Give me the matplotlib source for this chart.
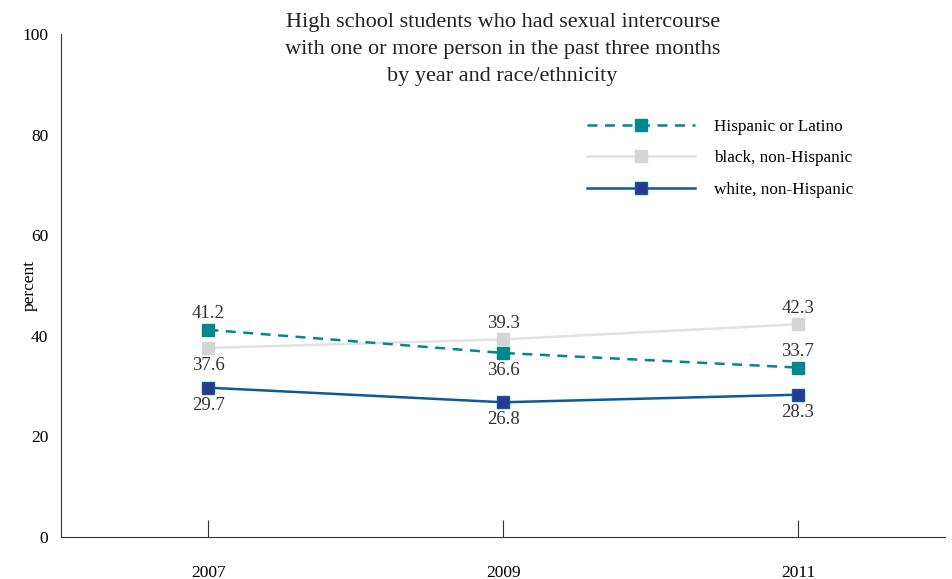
import matplotlib.pyplot as plt
from matplotlib.lines import Line2D

years = [2007, 2009, 2011]
hispanic = [41.2, 36.6, 33.7]
black = [37.6, 39.3, 42.3]
white = [29.7, 26.8, 28.3]

plt.rcParams['font.family'] = ['Liberation Serif', 'DejaVu Serif']

fig = plt.figure(figsize=(9.52, 5.79), dpi=100)
ax = fig.add_axes([0.064, 0.0725, 0.929, 0.8685])

teal = '#00888f'
gray = '#d4d4d4'
navy_line = '#0b5a9a'
navy_face = '#2b3990'

ax.plot(years, black, color='#e2e2e2', lw=1.8, marker='s', ms=8,
        mfc=gray, mec=gray, label='black, non-Hispanic', zorder=2)
ax.plot(years, hispanic, color=teal, lw=1.8, ls=(0, (4, 3)), marker='s', ms=8,
        mfc=teal, mec=teal, label='Hispanic or Latino', zorder=3)
ax.plot(years, white, color=navy_line, lw=1.8, marker='s', ms=8,
        mfc=navy_face, mec=navy_line, label='white, non-Hispanic', zorder=4)

# value labels: offset in points (positive = above)
hisp_off = [11.5, -12.5, 11.5]
black_off = [-12.5, 11.5, 11.5]
white_off = [-12.5, -12.5, -12.5]
for series, offs in ((hispanic, hisp_off), (black, black_off), (white, white_off)):
    for x, y, o in zip(years, series, offs):
        ax.annotate(f'{y:.1f}', (x, y), xytext=(0, o), textcoords='offset points',
                    ha='center', va='center', fontsize=13.5, color='#333333')

ax.set_xlim(2006, 2012)
ax.set_ylim(0, 100)
ax.set_xticks(years)
ax.set_yticks([0, 20, 40, 60, 80, 100])
ax.spines['top'].set_visible(False)
ax.spines['right'].set_visible(False)
ax.spines['left'].set_color('#333333')
ax.spines['bottom'].set_color('#333333')
ax.tick_params(axis='x', direction='in', length=12, pad=20, labelsize=12.5, color='#333333')
ax.tick_params(axis='y', direction='out', length=0, pad=9, labelsize=12.5)
ax.set_ylabel('percent', fontsize=12.5)
ax.yaxis.set_label_coords(-0.026, 0.5)

handles = [
    Line2D([], [], color=teal, lw=1.8, ls=(0, (4, 3)), marker='s', ms=8, mfc=teal, mec=teal),
    Line2D([], [], color='#e2e2e2', lw=1.8, marker='s', ms=8, mfc=gray, mec=gray),
    Line2D([], [], color=navy_line, lw=1.8, marker='s', ms=8, mfc=navy_face, mec=navy_line),
]
ax.legend(handles, ['Hispanic or Latino', 'black, non-Hispanic', 'white, non-Hispanic'],
          loc='upper left', bbox_to_anchor=(0.578, 0.862), frameon=False,
          handlelength=6.3, handletextpad=1.1, labelspacing=0.9, fontsize=12.3)

fig.text(0.528, 0.978, 'High school students who had sexual intercourse\n'
         'with one or more person in the past three months\n'
         'by year and race/ethnicity',
         ha='center', va='top', fontsize=16, linespacing=1.58, color='#222222')

fig.savefig('out.png', dpi=100)
